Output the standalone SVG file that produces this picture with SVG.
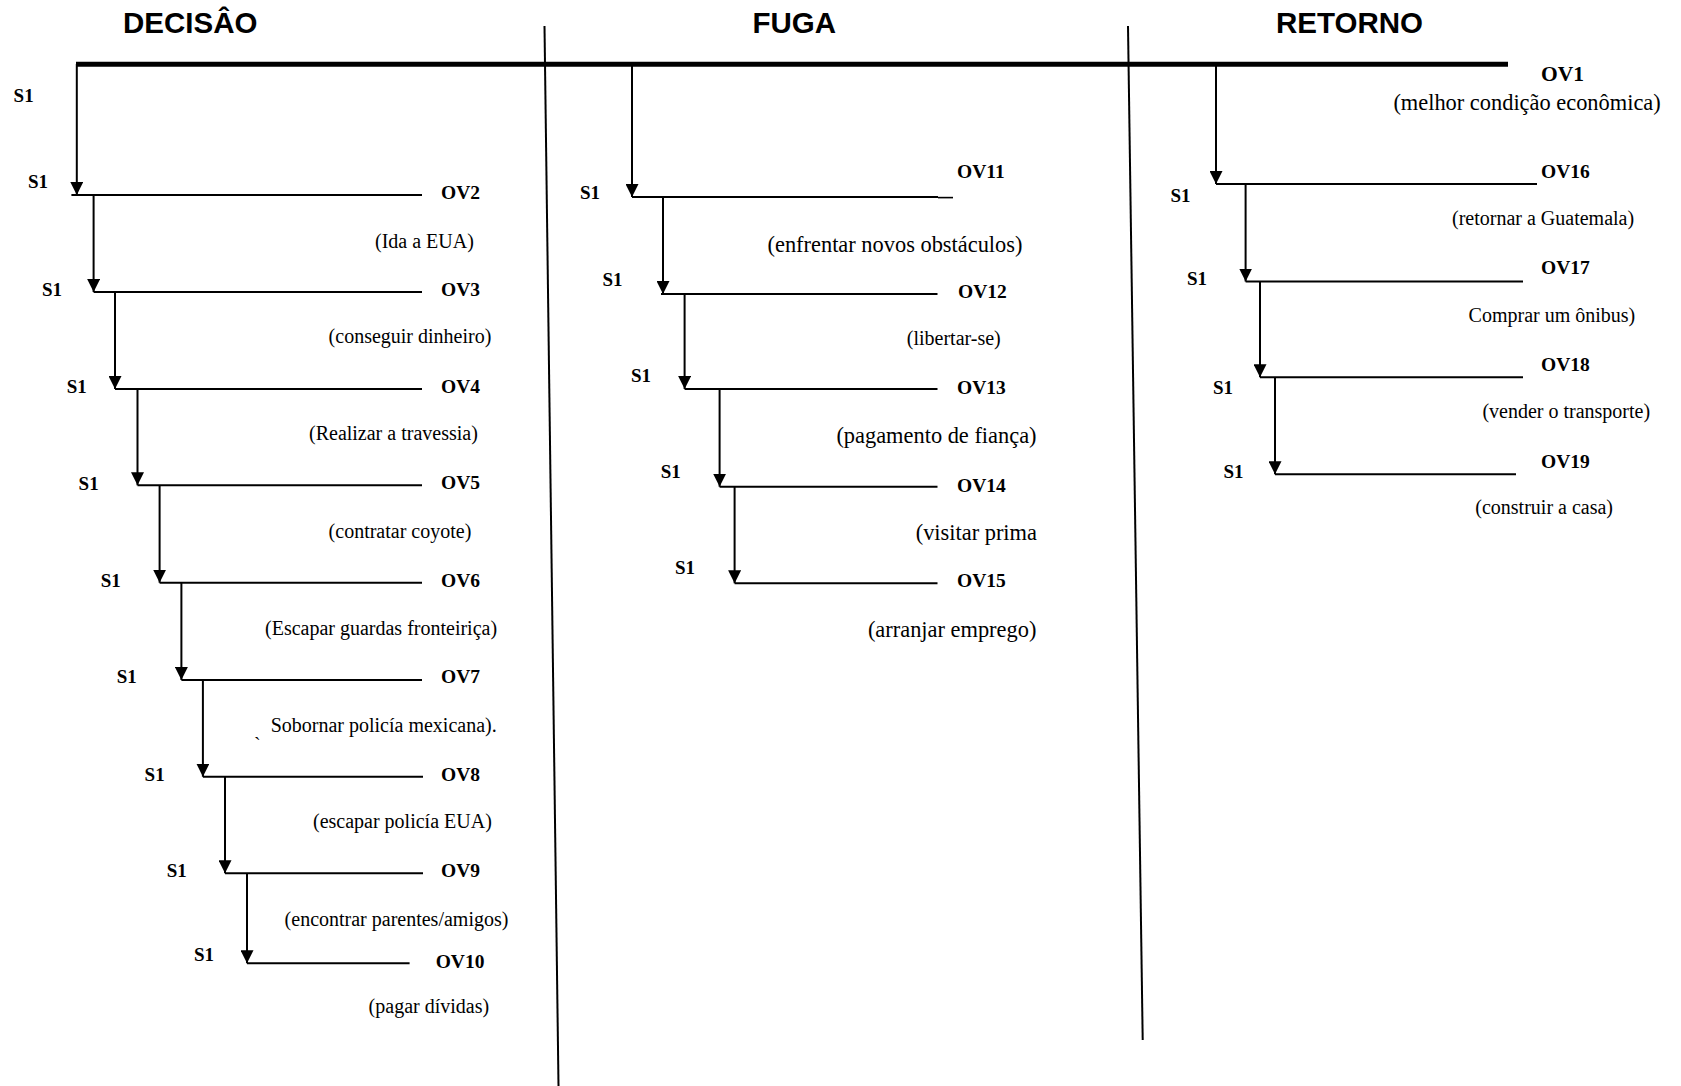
<svg xmlns="http://www.w3.org/2000/svg" width="1681" height="1086" viewBox="0 0 1681 1086">
  <defs>
    <marker id="arrow" viewBox="0 0 13 13" refX="13" refY="6.5" markerWidth="13" markerHeight="13" markerUnits="userSpaceOnUse" orient="auto">
      <path d="M0,0 L13,6.5 L0,13 z" fill="#000"/>
    </marker>
    <style>
      .title { font-family: "Liberation Sans", Arial, sans-serif; font-weight: bold; font-size: 29.5px; fill: #000; }
      .s { font-family: "Liberation Serif", "Times New Roman", serif; font-weight: bold; font-size: 19px; fill: #000; }
      .ov { font-family: "Liberation Serif", "Times New Roman", serif; font-weight: bold; font-size: 19.5px; fill: #000; }
      .ov1 { font-family: "Liberation Serif", "Times New Roman", serif; font-weight: bold; font-size: 21.5px; fill: #000; }
      .d { font-family: "Liberation Serif", "Times New Roman", serif; font-size: 20px; fill: #000; }
      .dl { font-family: "Liberation Serif", "Times New Roman", serif; font-size: 22.4px; fill: #000; }
      .bar { stroke: #000; stroke-width: 2; fill: none; }
      .arr { stroke: #000; stroke-width: 2; fill: none; marker-end: url(#arrow); }
      .div { stroke: #000; stroke-width: 2; fill: none; }
      .axis { stroke: #000; stroke-width: 5; fill: none; }
    </style>
  </defs>
  <rect width="1681" height="1086" fill="#fff"/>

  <!-- phase headings, timeline and phase separators -->
  <g id="frame">
    <text class="title" x="123" y="33">DECISÂO</text>
    <text class="title" x="752.5" y="33">FUGA</text>
    <text class="title" x="1276" y="33">RETORNO</text>
    <line class="axis" x1="76" y1="64.2" x2="1508" y2="64.2"/>
    <line class="div" x1="544.5" y1="26" x2="558.5" y2="1086"/>
    <line class="div" x1="1128" y1="26" x2="1142.7" y2="1040"/>
  </g>

  <!-- start objective -->
  <g id="ov1">
    <text class="s" x="13.6" y="101.7">S1</text>
    <text class="ov1" x="1541" y="81">OV1</text>
    <text class="dl" x="1393.4" y="110">(melhor condição econômica)</text>
  </g>

  <!-- DECISÂO steps -->
  <g id="ov2">
    <line class="bar" x1="71.4" y1="195" x2="422" y2="195"/>
    <text class="s" x="27.9" y="188">S1</text>
    <text class="ov" x="441" y="199">OV2</text>
    <text class="d" x="375" y="248">(Ida a EUA)</text>
  </g>
  <g id="ov3">
    <line class="bar" x1="93.6" y1="292" x2="422" y2="292"/>
    <text class="s" x="42" y="296">S1</text>
    <text class="ov" x="441" y="296">OV3</text>
    <text class="d" x="328.6" y="343">(conseguir dinheiro)</text>
  </g>
  <g id="ov4">
    <line class="bar" x1="115" y1="389" x2="422" y2="389"/>
    <text class="s" x="66.8" y="392.7">S1</text>
    <text class="ov" x="441" y="392.7">OV4</text>
    <text class="d" x="309" y="440">(Realizar a travessia)</text>
  </g>
  <g id="ov5">
    <line class="bar" x1="137.5" y1="485.3" x2="422" y2="485.3"/>
    <text class="s" x="78.6" y="490">S1</text>
    <text class="ov" x="441" y="489">OV5</text>
    <text class="d" x="328.6" y="538">(contratar coyote)</text>
  </g>
  <g id="ov6">
    <line class="bar" x1="159.6" y1="582.7" x2="422" y2="582.7"/>
    <text class="s" x="100.7" y="586.7">S1</text>
    <text class="ov" x="441" y="586.7">OV6</text>
    <text class="d" x="265" y="635">(Escapar guardas fronteiriça)</text>
  </g>
  <g id="ov7">
    <line class="bar" x1="181.4" y1="680" x2="422" y2="680"/>
    <text class="s" x="116.8" y="683">S1</text>
    <text class="ov" x="441" y="683">OV7</text>
    <text class="d" x="270.7" y="731.7">Sobornar policía mexicana).</text>
    <text class="d" x="254" y="752" font-size="14">`</text>
  </g>
  <g id="ov8">
    <line class="bar" x1="202.9" y1="776.7" x2="423" y2="776.7"/>
    <text class="s" x="144.6" y="780.7">S1</text>
    <text class="ov" x="441" y="780.7">OV8</text>
    <text class="d" x="313" y="828">(escapar policía EUA)</text>
  </g>
  <g id="ov9">
    <line class="bar" x1="225" y1="873.3" x2="423" y2="873.3"/>
    <text class="s" x="166.8" y="877">S1</text>
    <text class="ov" x="441" y="877">OV9</text>
    <text class="d" x="284.6" y="926">(encontrar parentes/amigos)</text>
  </g>
  <g id="ov10">
    <line class="bar" x1="247" y1="963.3" x2="409.6" y2="963.3"/>
    <text class="s" x="194" y="960.7">S1</text>
    <text class="ov" x="435.7" y="968.3">OV10</text>
    <text class="d" x="368.6" y="1013">(pagar dívidas)</text>
  </g>

  <!-- FUGA steps -->
  <g id="ov11">
    <line class="bar" x1="632" y1="197" x2="938" y2="197"/>
    <line x1="938" y1="197.6" x2="953" y2="197.6" stroke="#000" stroke-width="1.6"/>
    <text class="s" x="580" y="199.3">S1</text>
    <text class="ov" x="957" y="178.3">OV11</text>
    <text class="dl" x="767.5" y="251.7">(enfrentar novos obstáculos)</text>
  </g>
  <g id="ov12">
    <line class="bar" x1="661" y1="294" x2="937.5" y2="294"/>
    <text class="s" x="602.5" y="286">S1</text>
    <text class="ov" x="958" y="297.7">OV12</text>
    <text class="d" x="906.8" y="345">(libertar-se)</text>
  </g>
  <g id="ov13">
    <line class="bar" x1="684.6" y1="389" x2="937.5" y2="389"/>
    <text class="s" x="631" y="381.7">S1</text>
    <text class="ov" x="957" y="394.3">OV13</text>
    <text class="dl" x="836.4" y="443.3">(pagamento de fiança)</text>
  </g>
  <g id="ov14">
    <line class="bar" x1="719.6" y1="486.7" x2="937.5" y2="486.7"/>
    <text class="s" x="660.7" y="478.3">S1</text>
    <text class="ov" x="957" y="491.7">OV14</text>
    <text class="dl" x="915.7" y="540">(visitar prima</text>
  </g>
  <g id="ov15">
    <line class="bar" x1="734.6" y1="583.3" x2="937.5" y2="583.3"/>
    <text class="s" x="675" y="574.3">S1</text>
    <text class="ov" x="957" y="587.3">OV15</text>
    <text class="dl" x="867.9" y="636.7">(arranjar emprego)</text>
  </g>

  <!-- RETORNO steps -->
  <g id="ov16">
    <line class="bar" x1="1216" y1="184" x2="1537" y2="184"/>
    <text class="s" x="1170.4" y="201.7">S1</text>
    <text class="ov" x="1541" y="178.3">OV16</text>
    <text class="d" x="1452" y="225">(retornar a Guatemala)</text>
  </g>
  <g id="ov17">
    <line class="bar" x1="1245.6" y1="281.5" x2="1523" y2="281.5"/>
    <text class="s" x="1187" y="285">S1</text>
    <text class="ov" x="1541" y="274">OV17</text>
    <text class="d" x="1468.6" y="321.7">Comprar um ônibus)</text>
  </g>
  <g id="ov18">
    <line class="bar" x1="1260" y1="377.3" x2="1523" y2="377.3"/>
    <text class="s" x="1213" y="394.3">S1</text>
    <text class="ov" x="1541" y="371">OV18</text>
    <text class="d" x="1482.4" y="418.3">(vender o transporte)</text>
  </g>
  <g id="ov19">
    <line class="bar" x1="1275" y1="474.3" x2="1516" y2="474.3"/>
    <text class="s" x="1223.4" y="477.7">S1</text>
    <text class="ov" x="1541" y="467.7">OV19</text>
    <text class="d" x="1475.3" y="514.3">(construir a casa)</text>
  </g>

  <!-- step-to-step arrows -->
  <g id="connectors">
    <line class="arr" x1="76.8" y1="64" x2="76.8" y2="195"/>
    <line class="arr" x1="93.6" y1="195" x2="93.6" y2="292"/>
    <line class="arr" x1="115" y1="292" x2="115" y2="389"/>
    <line class="arr" x1="137.5" y1="389" x2="137.5" y2="485.3"/>
    <line class="arr" x1="159.6" y1="485.3" x2="159.6" y2="582.7"/>
    <line class="arr" x1="181.4" y1="582.7" x2="181.4" y2="680"/>
    <line class="arr" x1="202.9" y1="680" x2="202.9" y2="776.7"/>
    <line class="arr" x1="225" y1="776.7" x2="225" y2="873.3"/>
    <line class="arr" x1="247" y1="873.3" x2="247" y2="963.3"/>

    <line class="arr" x1="632" y1="64" x2="632" y2="197"/>
    <line class="arr" x1="663" y1="197" x2="663" y2="294"/>
    <line class="arr" x1="684.6" y1="294" x2="684.6" y2="389"/>
    <line class="arr" x1="719.6" y1="389" x2="719.6" y2="486.7"/>
    <line class="arr" x1="734.6" y1="486.7" x2="734.6" y2="583.3"/>

    <line class="arr" x1="1216" y1="64" x2="1216" y2="184"/>
    <line class="arr" x1="1245.6" y1="184" x2="1245.6" y2="281.5"/>
    <line class="arr" x1="1260" y1="281.5" x2="1260" y2="377.3"/>
    <line class="arr" x1="1275" y1="377.3" x2="1275" y2="474.3"/>
  </g>
</svg>
